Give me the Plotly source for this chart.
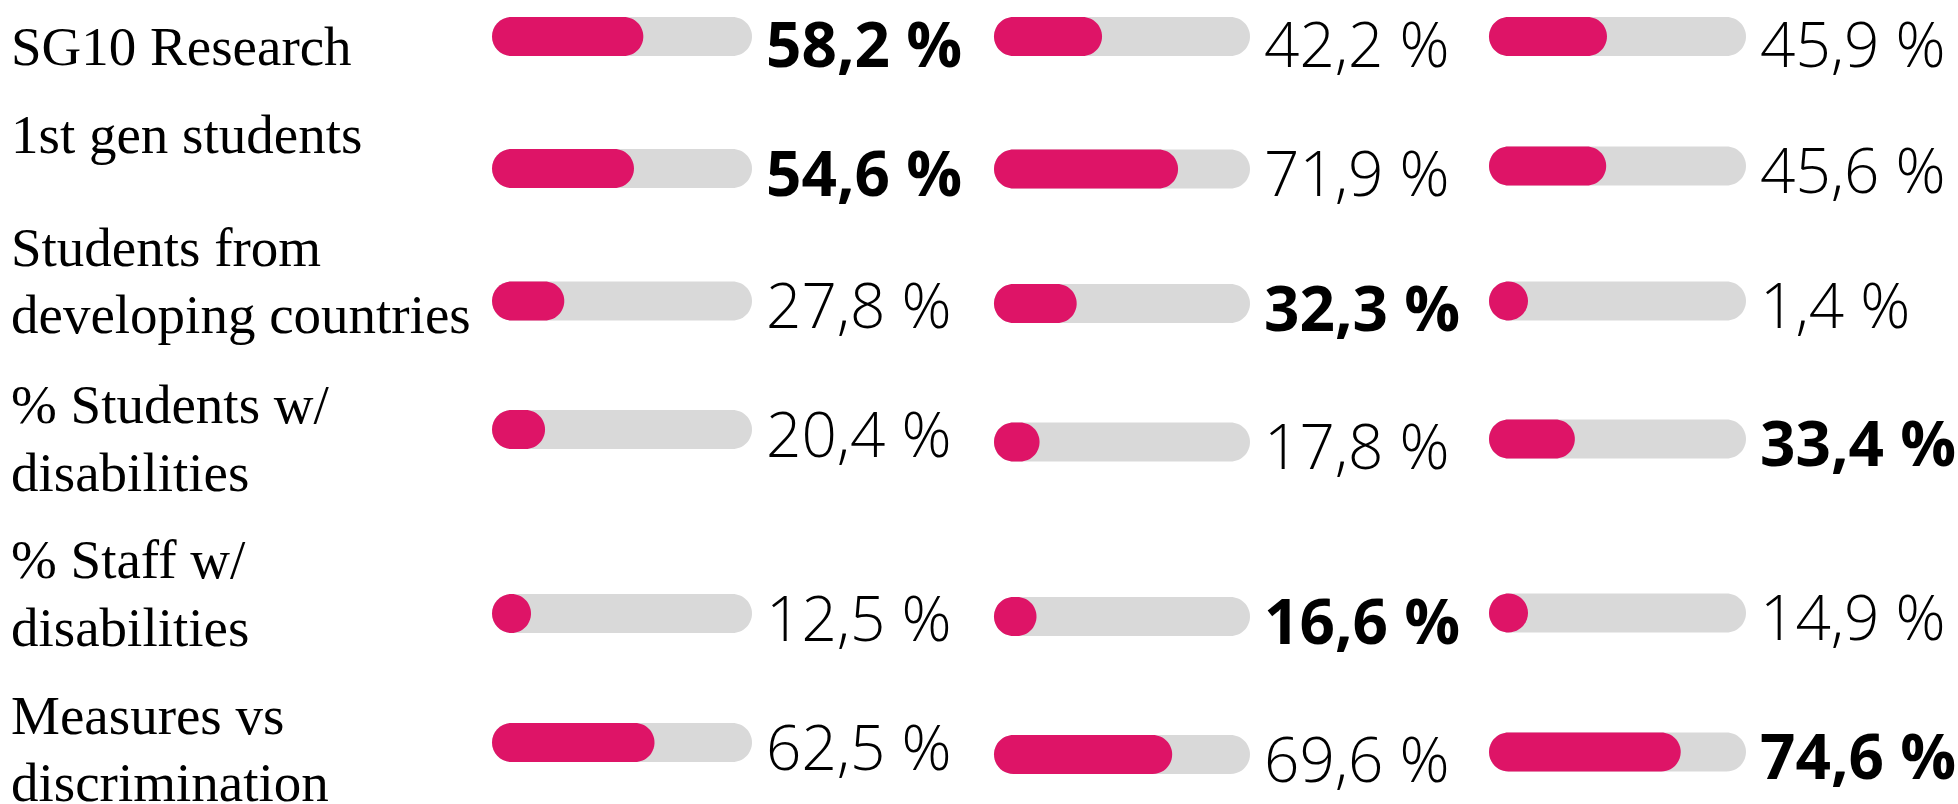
import plotly.graph_objects as go

# Indicator names, split into the lines they are set on
label_lines = [
    ["SG10 Research"],
    ["1st gen students"],
    ["Students from", "developing countries"],
    ["% Students w/", "disabilities"],
    ["% Staff w/", "disabilities"],
    ["Measures vs", "discrimination"],
]

# Shares (%) for the three groups, one list per column
values_a = [58.2, 54.6, 27.8, 20.4, 12.5, 62.5]
values_b = [42.2, 71.9, 32.3, 17.8, 16.6, 69.6]
values_c = [45.9, 45.6, 1.4, 33.4, 14.9, 74.6]

# Column whose figure is emphasised in each row
highlight_col = [0, 0, 1, 2, 1, 2]

columns = [values_a, values_b, values_c]

# ---- layout (pixel space) ----
W, H = 1958, 804
track_left = [492, 994, 1489]
track_width = [260, 256, 257]
bar_h = 39
row_center = [
    [36.5, 168.5, 301, 429.5, 613.5, 742.5],
    [36.5, 169, 303.5, 442, 616.5, 754.5],
    [36.5, 166, 301, 439, 613, 752],
]
label_baselines = [[65], [153], [266, 333], [423, 491], [578, 646], [734, 801]]

TRACK = "#d9d9d9"
FILL = "#de1467"
LABEL_SIZE = 55
VALUE_SIZE = 62
# keep the value text box of the top row inside the page
VALUE_MIN_Y = 0.69 * VALUE_SIZE


def pill(x0, x1, yc, h):
    """Rounded (capsule) outline from x0 to x1 centred on yc."""
    r = h / 2
    k = 0.5523 * r
    y0, y1 = yc - r, yc + r
    return (
        f"M {x0 + r},{y0} L {x1 - r},{y0} "
        f"C {x1 - r + k},{y0} {x1},{yc - k} {x1},{yc} "
        f"C {x1},{yc + k} {x1 - r + k},{y1} {x1 - r},{y1} "
        f"L {x0 + r},{y1} "
        f"C {x0 + r - k},{y1} {x0},{yc + k} {x0},{yc} "
        f"C {x0},{yc - k} {x0 + r - k},{y0} {x0 + r},{y0} Z"
    )


def fmt(v):
    return f"{v:.1f}".replace(".", ",") + " %"


shapes = []
annotations = []

for c, vals in enumerate(columns):
    x0 = track_left[c]
    w = track_width[c]
    for r, v in enumerate(vals):
        yc = row_center[c][r]
        # grey track
        shapes.append(dict(type="path", xref="x", yref="y",
                           path=pill(x0, x0 + w, yc, bar_h),
                           fillcolor=TRACK, line=dict(width=0), layer="below"))
        # filled part, never shorter than a full circle
        fill_w = max(v / 100 * w, bar_h)
        shapes.append(dict(type="path", xref="x", yref="y",
                           path=pill(x0, x0 + fill_w, yc, bar_h),
                           fillcolor=FILL, line=dict(width=0), layer="above"))
        bold = highlight_col[r] == c
        annotations.append(dict(
            x=x0 + w + 12, y=max(yc + 3, VALUE_MIN_Y), xref="x", yref="y",
            xanchor="left", yanchor="middle", showarrow=False,
            text=fmt(v),
            font=dict(family="Open Sans", size=VALUE_SIZE, color="#000000",
                      weight=700 if bold else 300),
        ))

for lines, bases in zip(label_lines, label_baselines):
    for line, base in zip(lines, bases):
        annotations.append(dict(
            x=9, y=base - 0.3375 * LABEL_SIZE, xref="x", yref="y",
            xanchor="left", yanchor="middle", showarrow=False,
            text=line,
            font=dict(family="Liberation Serif, Times New Roman, serif",
                      size=LABEL_SIZE, color="#000000"),
        ))

fig = go.Figure()
fig.add_trace(go.Scatter(x=[0, W], y=[0, H], mode="markers",
                         marker=dict(opacity=0), hoverinfo="skip",
                         showlegend=False))
fig.update_layout(
    width=W, height=H,
    margin=dict(l=0, r=0, t=0, b=0),
    paper_bgcolor="#ffffff", plot_bgcolor="#ffffff",
    xaxis=dict(range=[0, W], visible=False, fixedrange=True),
    yaxis=dict(range=[H, 0], visible=False, fixedrange=True),
    shapes=shapes,
    annotations=annotations,
    showlegend=False,
)

fig.write_html("out.html", config=dict(displayModeBar=False))
